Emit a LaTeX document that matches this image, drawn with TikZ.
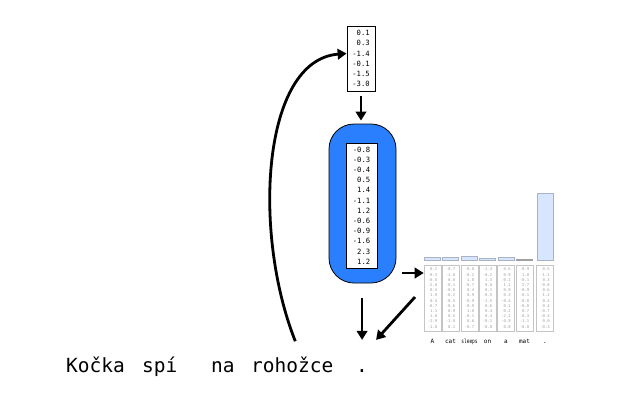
\documentclass[tikz,border=0pt]{standalone}
\usepackage{fontspec}
\usepackage{graphicx}
\setmonofont{DejaVu Sans Mono}
\usetikzlibrary{arrows.meta}
\definecolor{rnnblue}{HTML}{2A7FFF}
\definecolor{colgray}{HTML}{C4C4C4}
\definecolor{coltext}{HTML}{A0A0A0}
\definecolor{barfill}{HTML}{D7E5FF}
\definecolor{barline}{HTML}{A9B3C4}
\begin{document}
\begin{tikzpicture}[x=1pt,y=-1pt,
  vecbox/.style={draw=black, line width=0.8pt, fill=white, inner sep=0pt, align=right,
    font=\ttfamily\fontsize{7.2}{10.2}\selectfont},
  colbox/.style={draw=colgray, line width=0.6pt, fill=white, inner sep=0pt, align=right,
    minimum width=17, minimum height=66, text=coltext,
    font=\ttfamily\fontsize{3.9}{5.2}\selectfont},
  barbox/.style={draw=barline, line width=0.6pt, fill=barfill, inner sep=0pt, minimum width=16, anchor=south},
  collab/.style={anchor=base, inner sep=0pt, font=\ttfamily\fontsize{6}{7}\selectfont},
  word/.style={anchor=base west, inner sep=0pt, font=\ttfamily\fontsize{19.5}{22}\selectfont},
  arr/.style={line width=2.8pt, -{Triangle[length=9pt,width=10.5pt]}}]
\useasboundingbox (0,0) rectangle (640,400);

% top vector
\node[vecbox, minimum width=28, minimum height=65] (tv) at (361,58.5)
  {0.1\\0.3\\-1.4\\-0.1\\-1.5\\-3.0};

% RNN block
\node[draw=black, line width=0.8pt, fill=rnnblue, rounded corners=25pt,
  minimum width=67, minimum height=159, inner sep=0pt] (rnn) at (362.5,203.5) {};
\node[vecbox, minimum width=31, minimum height=125] (hv) at (361.5,205.5)
  {-0.8\\-0.3\\-0.4\\0.5\\1.4\\-1.1\\1.2\\-0.6\\-0.9\\-1.6\\2.3\\1.2};

% source columns
\node[colbox] (c1) at (432.5,298) {0.2\\0.3\\-0.5\\-2.8\\0.4\\1.9\\0.4\\-0.7\\1.1\\1.8\\-2.9\\-1.8};
\node[colbox] (c2) at (450.5,298) {-0.7\\-1.8\\0.8\\-0.1\\-0.8\\-0.2\\-0.5\\-0.6\\0.9\\0.5\\-1.0\\0.1};
\node[colbox] (c3) at (469.5,298) {-0.8\\-0.2\\1.0\\-0.7\\0.4\\0.9\\-0.9\\-0.9\\1.0\\-0.1\\0.6\\-0.7};
\node[colbox] (c4) at (487.5,298) {-1.3\\-0.2\\1.3\\0.8\\0.1\\-0.5\\-1.5\\0.6\\0.4\\0.4\\-0.1\\-0.8};
\node[colbox] (c5) at (506,298) {0.6\\0.9\\-0.1\\1.1\\0.9\\0.3\\-0.4\\0.1\\-0.2\\-2.1\\-0.9\\0.8};
\node[colbox] (c6) at (524.5,298) {-0.9\\1.8\\-0.1\\2.7\\-0.9\\-0.1\\-0.8\\-0.8\\0.7\\-0.3\\-1.1\\-0.8};
\node[colbox] (c7) at (545,298) {0.5\\-1.1\\0.3\\-0.8\\0.6\\1.2\\0.4\\0.4\\-0.7\\-0.3\\0.0\\-0.3};

% attention bars
\node[barbox, minimum height=3] (b1) at (432.5,261) {};
\node[barbox, minimum height=3] (b2) at (450.5,261) {};
\node[barbox, minimum height=4] (b3) at (469.5,261) {};
\node[barbox, minimum height=2.5] (b4) at (487.5,261) {};
\node[barbox, minimum height=3] (b5) at (506,261) {};
\node[barbox, minimum height=1.2, draw=coltext, fill=coltext] (b6) at (524.5,261) {};
\node[barbox, minimum height=67] (b7) at (545,261) {};

% column labels
\node[collab] (l1) at (432.5,343) {A};
\node[collab] (l2) at (450.5,343) {cat};
\node[collab] (l3) at (469.5,343) {\scalebox{0.75}[1]{sleeps}};
\node[collab] (l4) at (487.5,343) {on};
\node[collab] (l5) at (506,343) {a};
\node[collab] (l6) at (524.5,343) {mat};
\node[collab] (l7) at (545,343) {.};

% output words
\node[word] (w1) at (66,372) {Kočka};
\node[word] (w2) at (142,372) {spí};
\node[word] (w3) at (211,372) {na};
\node[word] (w4) at (251,372) {rohožce};
\node[word] (w5) at (356,372) {.};

% connectors
\draw[arr, shorten <=5pt, shorten >=3pt] (tv.south) -- (tv.south |- rnn.north);
\coordinate (outend) at ([yshift=29pt]w5.north);
\draw[arr, shorten <=15pt] (rnn.south -| outend) -- (outend);
\coordinate (ctxs) at (402,273);
\draw[arr] (ctxs) -- (c1.west |- ctxs);
\coordinate (ctxd) at (415,297);
\draw[arr] (ctxd) -- ([xshift=14pt, yshift=29pt]w5.north);
\draw[arr] ([xshift=3pt, yshift=15pt]w4.north) .. controls (252,232) and (262,60) .. ([yshift=5pt]tv.west);
\end{tikzpicture}
\end{document}
